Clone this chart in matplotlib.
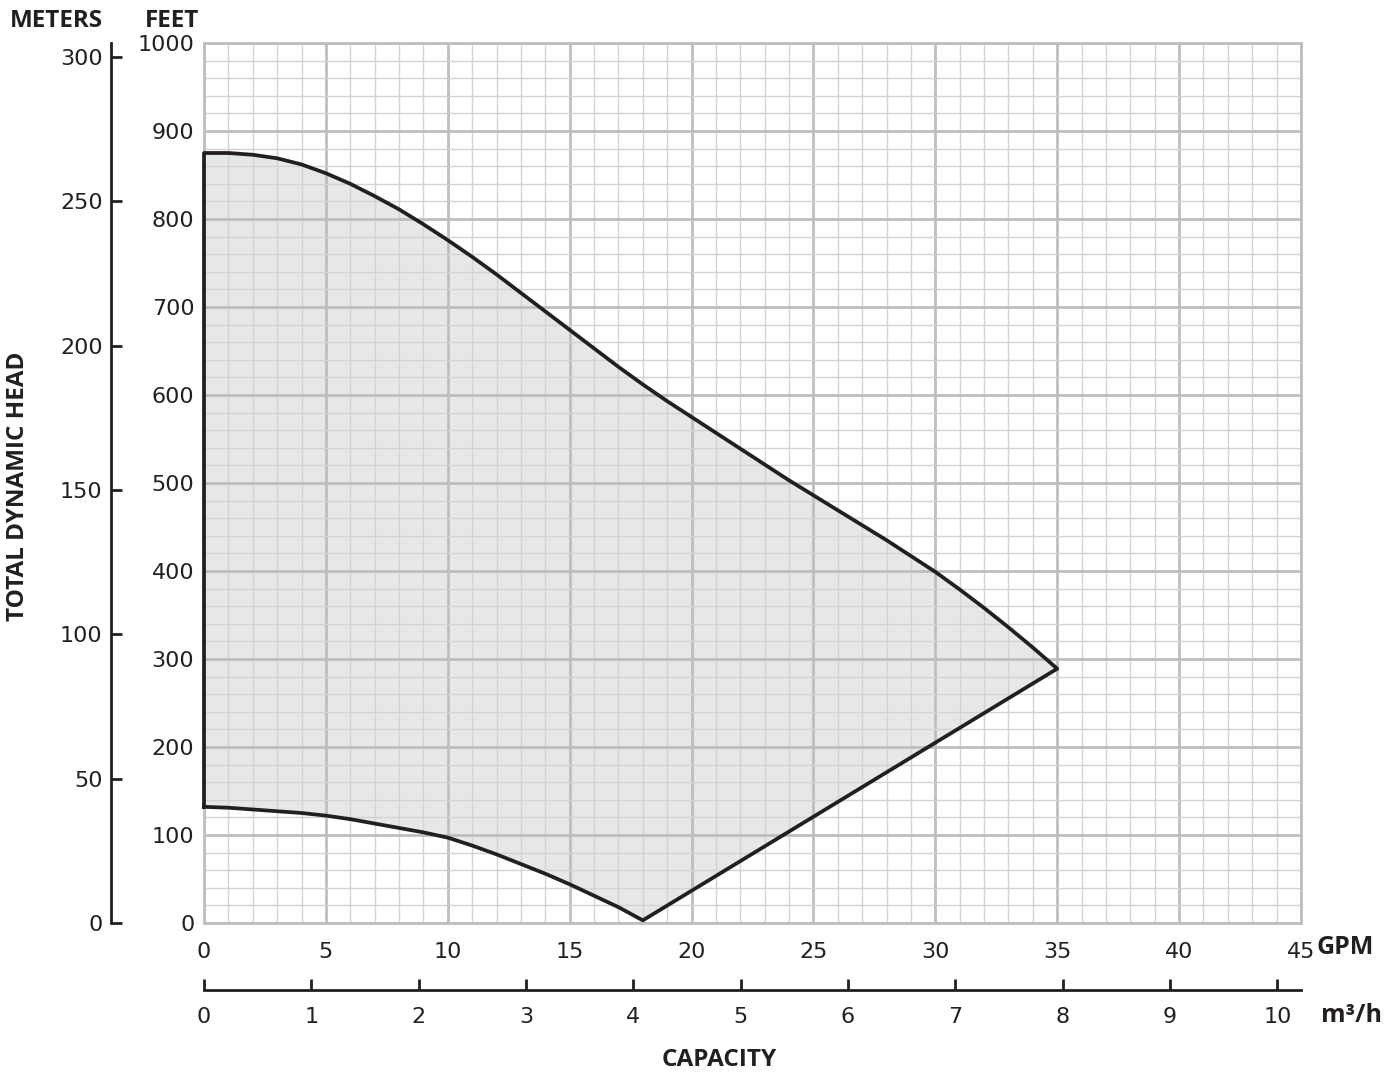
import matplotlib
matplotlib.use("Agg")
import matplotlib.pyplot as plt
import numpy as np

# pump performance envelope (feet vs GPM)
gpm_upper = [0, 1, 2, 3, 4, 5, 6, 7, 8, 9, 10, 11, 12, 13, 14, 15, 16, 17, 18,
             19, 20, 21, 22, 23, 24, 25, 26, 27, 28, 29, 30, 31, 32, 33, 34, 35]
ft_upper = [875, 875, 873, 869, 862, 852, 840, 826, 811, 794, 776, 757, 737, 716, 695, 674, 653, 632, 612,
            593, 575, 557, 539, 521, 503, 486, 469, 452, 435, 417, 399, 379, 358, 336, 313, 289]
gpm_lower = [0, 1, 2, 3, 4, 5, 6, 7, 8, 9, 10, 11, 12, 13, 14, 15, 16, 17, 18]
ft_lower = [132, 131, 129, 127, 125, 122, 118, 113, 108, 103, 97, 88, 78, 67, 56, 44, 31, 18, 3]

gpm_ticks = [0, 5, 10, 15, 20, 25, 30, 35, 40, 45]
ft_ticks = [0, 100, 200, 300, 400, 500, 600, 700, 800, 900, 1000]
m_ticks = [0, 50, 100, 150, 200, 250, 300]
m3h_ticks = [0, 1, 2, 3, 4, 5, 6, 7, 8, 9, 10]

GPM_PER_M3H = 4.4029
M_PER_FT = 0.3048

W, H = 1395, 1075
num_font = ['Liberation Sans Narrow', 'DejaVu Sans Condensed', 'DejaVu Sans']
bold_font = ['Open Sans', 'DejaVu Sans']
ink = '#231f20'
major_c = '#bcbec0'
minor_c = '#d1d3d4'
num_size = 16

fig = plt.figure(figsize=(W / 100, H / 100), dpi=100)

left, right = 204 / W, 1301 / W
bottom, top = 1 - 923 / H, 1 - 43 / H
ax = fig.add_axes([left, bottom, right - left, top - bottom])
ax.set_xlim(0, 45)
ax.set_ylim(0, 1000)
ax.set_xticks(gpm_ticks)
ax.set_yticks(ft_ticks)
ax.set_xticks(np.arange(0, 46, 1), minor=True)
ax.set_yticks(np.arange(0, 1001, 20), minor=True)
ax.grid(which='major', color=major_c, lw=2.0)
ax.grid(which='minor', color=minor_c, lw=1.0)
ax.set_axisbelow('line')
for s in ax.spines.values():
    s.set_color(major_c)
    s.set_linewidth(2.0)
ax.tick_params(which='both', length=0)
ax.tick_params(axis='x', pad=14, labelsize=num_size, labelcolor=ink)
ax.tick_params(axis='y', pad=7, labelsize=num_size, labelcolor=ink)
for lab in ax.get_xticklabels() + ax.get_yticklabels():
    lab.set_family(num_font)

# envelope outline: left edge, upper curve, straight line down, lower curve back
px = [0] + gpm_upper + gpm_lower[::-1]
py = [ft_lower[0]] + ft_upper + ft_lower[::-1]
ax.fill(px, py, facecolor='#e6e7e8', edgecolor='none', zorder=1)
ax.plot(px, py, color=ink, lw=2.7, solid_joinstyle='round', zorder=3, clip_on=False)

# meters scale on the far left
axm = fig.add_axes([111 / W, bottom, 0.0005, top - bottom])
axm.set_ylim(0, 1000 * M_PER_FT)
axm.set_yticks(m_ticks)
axm.set_xticks([])
axm.patch.set_visible(False)
for k in ['top', 'right', 'bottom']:
    axm.spines[k].set_visible(False)
axm.spines['left'].set_linewidth(2.0)
axm.spines['left'].set_color(ink)
axm.tick_params(axis='y', direction='in', length=8, width=2.0, color=ink,
                pad=6, labelsize=num_size, labelcolor=ink)
for lab in axm.get_yticklabels():
    lab.set_family(num_font)

# m3/h scale below the chart
axc = fig.add_axes([left, 1 - 990 / H, right - left, 0.0005])
axc.set_xlim(0, 45 / GPM_PER_M3H)
axc.set_xticks(m3h_ticks)
axc.set_yticks([])
axc.patch.set_visible(False)
for k in ['top', 'right', 'left']:
    axc.spines[k].set_visible(False)
axc.spines['bottom'].set_linewidth(2.0)
axc.spines['bottom'].set_color(ink)
axc.tick_params(axis='x', direction='in', length=8, width=2.0, color=ink,
                pad=12, labelsize=num_size, labelcolor=ink)
for lab in axc.get_xticklabels():
    lab.set_family(num_font)

# labels
fig.text(10 / W, 1 - 21 / H, 'METERS', family=bold_font, weight='bold',
         fontsize=17.5, color=ink, va='center', ha='left')
fig.text(145 / W, 1 - 21 / H, 'FEET', family=bold_font, weight='bold',
         fontsize=17.5, color=ink, va='center', ha='left')
fig.text(18 / W, 1 - 486 / H, 'TOTAL DYNAMIC HEAD', family=bold_font, weight='bold',
         fontsize=17.5, color=ink, va='center', ha='center', rotation=90)
fig.text(1317 / W, 1 - 948 / H, 'GPM', family=bold_font, weight='bold',
         fontsize=18, color=ink, va='center', ha='left')
fig.text(1321 / W, 1 - 1015 / H, 'm³/h', family=bold_font, weight='bold',
         fontsize=18, color=ink, va='center', ha='left')
fig.text(719 / W, 1 - 1060 / H, 'CAPACITY', family=bold_font, weight='bold',
         fontsize=17.5, color=ink, va='center', ha='center')

fig.savefig('out.png', dpi=100)
